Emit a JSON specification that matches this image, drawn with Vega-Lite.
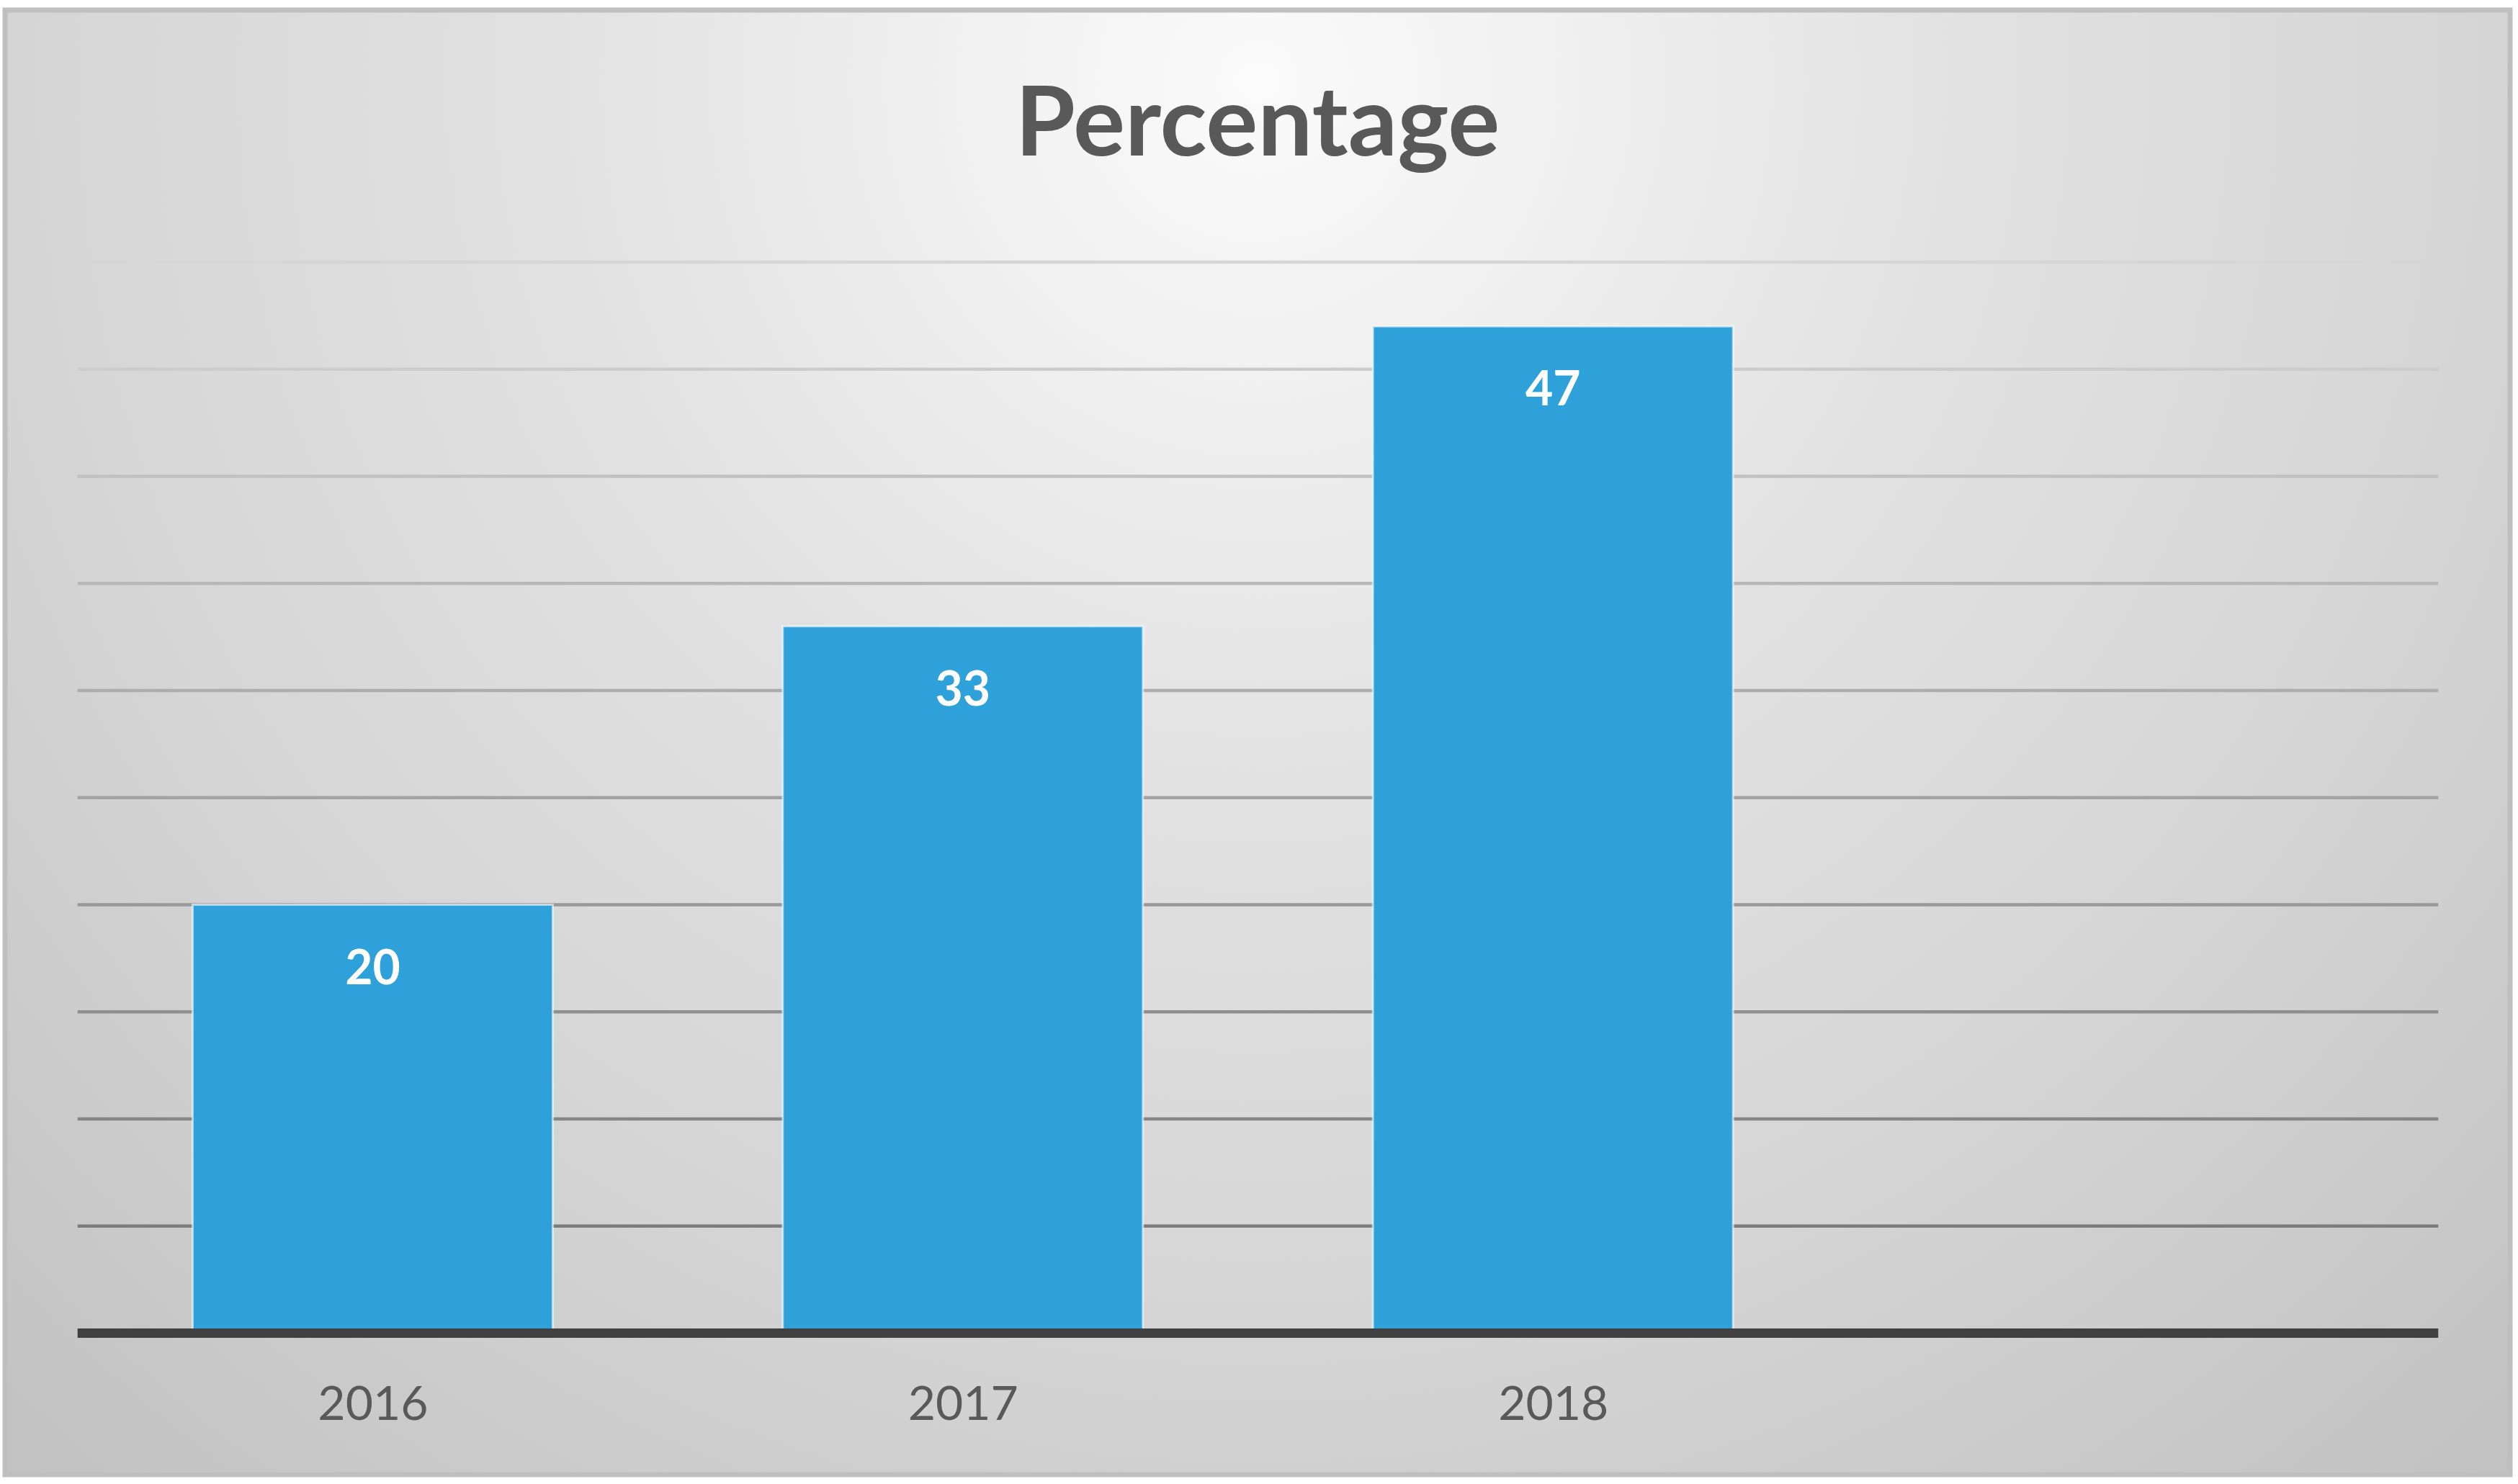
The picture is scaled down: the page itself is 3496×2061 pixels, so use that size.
{
  "$schema": "https://vega.github.io/schema/vega-lite/v6.json",
  "autosize": {"type": "none"},
  "width": 3478,
  "height": 2034,
  "padding": {"left": 7, "top": 14, "right": 11, "bottom": 13},
  "background": "#ffffff",
  "title": {
    "text": "Percentage",
    "orient": "top",
    "frame": "group",
    "anchor": "middle",
    "offset": -337,
    "baseline": "alphabetic",
    "font": "Lato",
    "fontSize": 135,
    "fontWeight": "bold",
    "color": "#595959"
  },
  "datasets": {
    "bars": [
      {"year": 2016, "value": 20},
      {"year": 2017, "value": 33},
      {"year": 2018, "value": 47}
    ],
    "grid": [
      {"v": 5}, {"v": 10}, {"v": 15}, {"v": 20}, {"v": 25},
      {"v": 30}, {"v": 35}, {"v": 40}, {"v": 45}, {"v": 50}
    ],
    "base": [{"v": 0}]
  },
  "layer": [
    {
      "data": {"name": "grid"},
      "mark": {"type": "rule", "strokeWidth": 4.5},
      "encoding": {
        "y": {"field": "v", "type": "quantitative", "scale": {"domain": [-6.605, 61.7647], "nice": false, "zero": false}, "axis": null},
        "x": {"datum": 2015.5, "type": "quantitative", "scale": {"domain": [2015.38318, 2019.61561], "nice": false, "zero": false}},
        "x2": {"datum": 2019.5},
        "color": {"field": "v", "type": "quantitative", "scale": {"domain": [5, 50], "range": ["#7c7c7c", "#d6d6d6"]}, "legend": null}
      }
    },
    {
      "data": {"name": "bars"},
      "mark": {"type": "bar", "width": 500, "fill": "#2ea1da", "stroke": "#ffffff", "strokeOpacity": 0.6, "strokeWidth": 3},
      "encoding": {
        "x": {"field": "year", "type": "quantitative",
          "axis": {"values": [2016, 2017, 2018], "format": "d", "title": null, "grid": false, "domain": false, "ticks": false, "tickSize": 0,
            "offset": -190, "labelPadding": 113, "labelBaseline": "alphabetic", "labelFont": "Lato", "labelFontSize": 66, "labelColor": "#595959"}},
        "y": {"field": "value", "type": "quantitative"}
      }
    },
    {
      "data": {"name": "base"},
      "mark": {"type": "rule", "strokeWidth": 13, "color": "#404040"},
      "encoding": {
        "y": {"field": "v", "type": "quantitative"},
        "x": {"datum": 2015.5, "type": "quantitative"},
        "x2": {"datum": 2019.5}
      }
    },
    {
      "data": {"name": "bars"},
      "mark": {"type": "text", "dy": 110, "baseline": "alphabetic", "align": "center", "fill": "#ffffff", "font": "Lato", "fontWeight": "bold", "fontSize": 66},
      "encoding": {
        "x": {"field": "year", "type": "quantitative"},
        "y": {"field": "value", "type": "quantitative"},
        "text": {"field": "value", "type": "quantitative"}
      }
    }
  ],
  "config": {
    "view": {
      "stroke": "#bfbfbf",
      "strokeWidth": 7,
      "fill": {
        "gradient": "radial",
        "x1": 0.5, "y1": 0.236, "r1": 0,
        "x2": 0.5, "y2": 0.236, "r2": 1,
        "stops": [
          {"offset": 0, "color": "#fbfbfb"},
          {"offset": 0.28, "color": "#e2e2e2"},
          {"offset": 0.48, "color": "#d6d6d6"},
          {"offset": 0.62, "color": "#cbcbcb"},
          {"offset": 0.75, "color": "#c1c1c1"}
        ]
      }
    }
  }
}
